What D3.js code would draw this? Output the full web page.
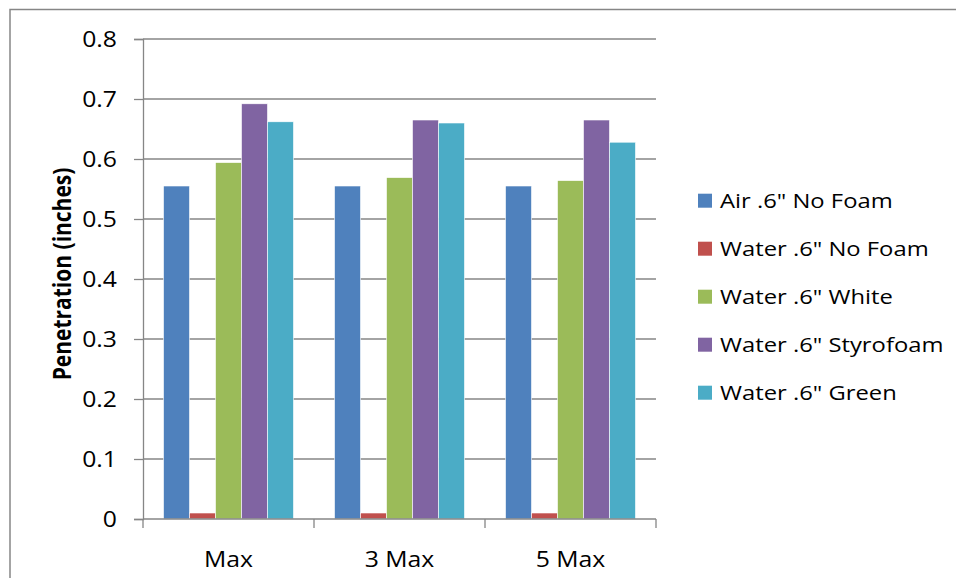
<!DOCTYPE html>
<html>
<head>
<meta charset="utf-8">
<script src="https://cdn.jsdelivr.net/npm/d3@7"></script>
<style>
  html, body { margin: 0; padding: 0; background: #fff; }
  svg { display: block; }
  text { font-family: "Open Sans", "Noto Sans", sans-serif; fill: #000; }
</style>
</head>
<body>
<svg id="chart" width="956" height="578"></svg>
<script>
// Penetration depth per shot condition, one series per target setup
const categories = ["Max", "3 Max", "5 Max"];
const seriesNames = [
  "Air .6\" No Foam",
  "Water .6\" No Foam",
  "Water .6\" White",
  "Water .6\" Styrofoam",
  "Water .6\" Green"
];
const airNoFoam       = [0.555, 0.555, 0.555];
const waterNoFoam     = [0.010, 0.010, 0.010];
const waterWhite      = [0.594, 0.569, 0.564];
const waterStyrofoam  = [0.692, 0.665, 0.665];
const waterGreen      = [0.662, 0.660, 0.628];
const yTicks = [0, 0.1, 0.2, 0.3, 0.4, 0.5, 0.6, 0.7, 0.8];
const yTitle = "Penetration (inches)";

const seriesValues = [airNoFoam, waterNoFoam, waterWhite, waterStyrofoam, waterGreen];
const colors = ["#4F81BD", "#C0504D", "#9BBB59", "#8064A2", "#4BACC6"];

const svg = d3.select("#chart");
const gridColor = "#868686";
const sx = 1.22; // horizontal text stretch

const plot = { left: 143, right: 656, top: 39, bottom: 519 };

const x0 = d3.scaleBand()
  .domain(categories)
  .range([plot.left, plot.right])
  .paddingInner(0.24)
  .paddingOuter(0.12);
const x1 = d3.scaleBand()
  .domain(d3.range(seriesNames.length))
  .range([0, x0.bandwidth()]);
const y = d3.scaleLinear().domain([0, 0.8]).range([plot.bottom, plot.top]);

// outer chart frame
svg.append("rect")
  .attr("x", 10).attr("y", 9.5)
  .attr("width", 1000).attr("height", 1000)
  .attr("fill", "none").attr("stroke", gridColor).attr("stroke-width", 1.5);

// horizontal gridlines
svg.append("g").selectAll("line")
  .data(yTicks.filter(d => d > 0))
  .join("line")
  .attr("x1", plot.left).attr("x2", plot.right)
  .attr("y1", d => y(d)).attr("y2", d => y(d))
  .attr("stroke", gridColor).attr("stroke-width", 1.3);

// y axis
const yAxis = d3.axisLeft(y).tickValues(yTicks).tickSize(9).tickFormat(d => d === 0 ? "0" : d3.format(".1f")(d));
const gy = svg.append("g").attr("transform", `translate(${plot.left},0)`).call(yAxis);
gy.select(".domain").attr("stroke", gridColor).attr("stroke-width", 1.3);
gy.selectAll(".tick line").attr("stroke", gridColor).attr("stroke-width", 1.3);
gy.selectAll(".tick text").remove();
svg.append("g").selectAll("text")
  .data(yTicks)
  .join("text")
  .attr("transform", d => `translate(117,${y(d)}) scale(1.15,1)`)
  .attr("text-anchor", "end")
  .attr("dy", "0.35em")
  .style("font-size", "21.5px")
  .text(d => d === 0 ? "0" : d3.format(".1f")(d));

// bars
const groups = svg.append("g").selectAll("g")
  .data(categories)
  .join("g")
  .attr("transform", d => `translate(${x0(d)},0)`);
groups.selectAll("rect")
  .data((c, ci) => seriesValues.map((vals, si) => ({ si, v: vals[ci] })))
  .join("rect")
  .attr("x", d => x1(d.si))
  .attr("width", x1.bandwidth())
  .attr("y", d => y(d.v))
  .attr("height", d => y(0) - y(d.v))
  .attr("fill", d => colors[d.si])
  .attr("stroke", "#fff").attr("stroke-width", 0.6);

// x axis
const xBounds = [plot.left, ...categories.map(c => x0(c) + x0.bandwidth() + x0.step() * x0.paddingInner() / 2)];
svg.append("line")
  .attr("x1", plot.left).attr("x2", plot.right)
  .attr("y1", y(0)).attr("y2", y(0))
  .attr("stroke", gridColor).attr("stroke-width", 1.3);
svg.append("g").selectAll("line")
  .data(xBounds)
  .join("line")
  .attr("x1", d => d).attr("x2", d => d)
  .attr("y1", y(0)).attr("y2", y(0) + 9)
  .attr("stroke", gridColor).attr("stroke-width", 1.3);
svg.append("g").selectAll("text")
  .data(categories)
  .join("text")
  .attr("transform", d => `translate(${x0(d) + x0.bandwidth() / 2},567) scale(1.18,1)`)
  .attr("text-anchor", "middle")
  .style("font-size", "21px")
  .text(d => d);

// y axis title
svg.append("text")
  .attr("transform", `translate(71,274) scale(1.2,1) rotate(-90)`)
  .attr("text-anchor", "middle")
  .style("font-size", "21px")
  .style("font-weight", "bold")
  .text(yTitle);

// legend
const legendRows = [200.7, 248.7, 296.7, 344.7, 392.7];
const legend = svg.append("g").selectAll("g")
  .data(seriesNames)
  .join("g")
  .attr("transform", (d, i) => `translate(698,${legendRows[i]})`);
legend.append("rect")
  .attr("x", 0).attr("y", -7).attr("width", 14).attr("height", 14)
  .attr("fill", (d, i) => colors[i]);
legend.append("text")
  .attr("transform", `translate(22,0) scale(${sx},1)`)
  .attr("dy", "0.36em")
  .style("font-size", "19.5px")
  .text(d => d);
</script>
</body>
</html>
